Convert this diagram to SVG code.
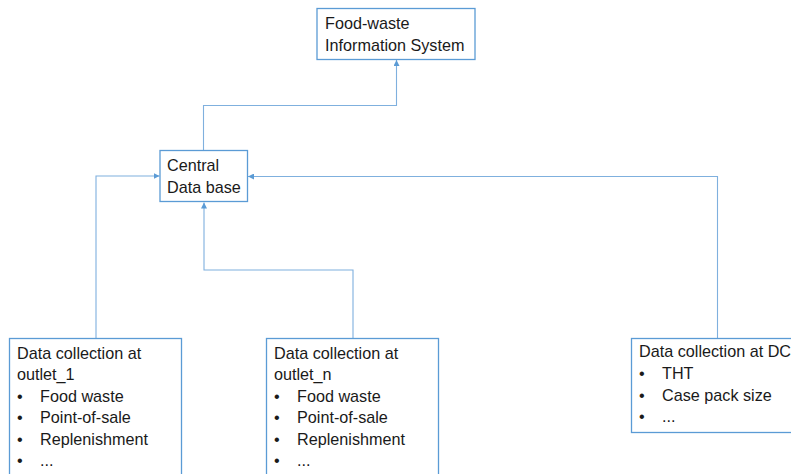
<svg xmlns="http://www.w3.org/2000/svg" width="791" height="474" viewBox="0 0 791 474">
<style>
.box{fill:#fff;stroke:#5b9bd5;stroke-width:1.3}
.t{font-family:"Liberation Sans",Arial,sans-serif;font-size:16.2px;fill:#1a1a1a}
.c{fill:none;stroke:#7fb0de;stroke-width:1.1}
</style>
<defs>
<marker id="ah" viewBox="0 0 10 10" refX="10" refY="5" markerWidth="6" markerHeight="6" markerUnits="userSpaceOnUse" orient="auto">
<path d="M0,0 L10,5 L0,10 z" fill="#5b9bd5"/>
</marker>
</defs>
<rect width="791" height="474" fill="#fff"/>
<g id="connectors">
<path class="c" d="M203.5,150.5 V105.5 H396.5 V60" marker-end="url(#ah)"/>
<path class="c" d="M96,338 V176 H159.5" marker-end="url(#ah)"/>
<path class="c" d="M353,338 V270 H204 V202.5" marker-end="url(#ah)"/>
<path class="c" d="M717.5,338 V176.5 H248" marker-end="url(#ah)"/>
</g>
<g id="fwis">
<rect class="box" x="317" y="8.5" width="158" height="51"/>
<text class="t" x="325" y="28.5">Food-waste</text>
<text class="t" x="325" y="50.5">Information System</text>
</g>
<g id="cdb">
<rect class="box" x="160" y="150.5" width="87.5" height="51"/>
<text class="t" x="167" y="170.5">Central</text>
<text class="t" x="167" y="192.5">Data base</text>
</g>
<g id="outlet1">
<rect class="box" x="9.5" y="338.5" width="172" height="150"/>
<text class="t" x="17" y="358.5">Data collection at</text>
<text class="t" x="17" y="380">outlet_1</text>
<text class="t" x="17" y="401.5">•</text><text class="t" x="40" y="401.5">Food waste</text>
<text class="t" x="17" y="423">•</text><text class="t" x="40" y="423">Point-of-sale</text>
<text class="t" x="17" y="444.5">•</text><text class="t" x="40" y="444.5">Replenishment</text>
<text class="t" x="17" y="466">•</text><text class="t" x="40" y="466">...</text>
</g>
<g id="outletn">
<rect class="box" x="266.5" y="338.5" width="172" height="150"/>
<text class="t" x="274" y="358.5">Data collection at</text>
<text class="t" x="274" y="380">outlet_n</text>
<text class="t" x="274" y="401.5">•</text><text class="t" x="297" y="401.5">Food waste</text>
<text class="t" x="274" y="423">•</text><text class="t" x="297" y="423">Point-of-sale</text>
<text class="t" x="274" y="444.5">•</text><text class="t" x="297" y="444.5">Replenishment</text>
<text class="t" x="274" y="466">•</text><text class="t" x="297" y="466">...</text>
</g>
<g id="dc">
<rect class="box" x="631.5" y="338.5" width="175" height="94"/>
<text class="t" x="639" y="357">Data collection at DC</text>
<text class="t" x="639" y="379">•</text><text class="t" x="662" y="379">THT</text>
<text class="t" x="639" y="400.5">•</text><text class="t" x="662" y="400.5">Case pack size</text>
<text class="t" x="639" y="422">•</text><text class="t" x="662" y="422">...</text>
</g>
</svg>
